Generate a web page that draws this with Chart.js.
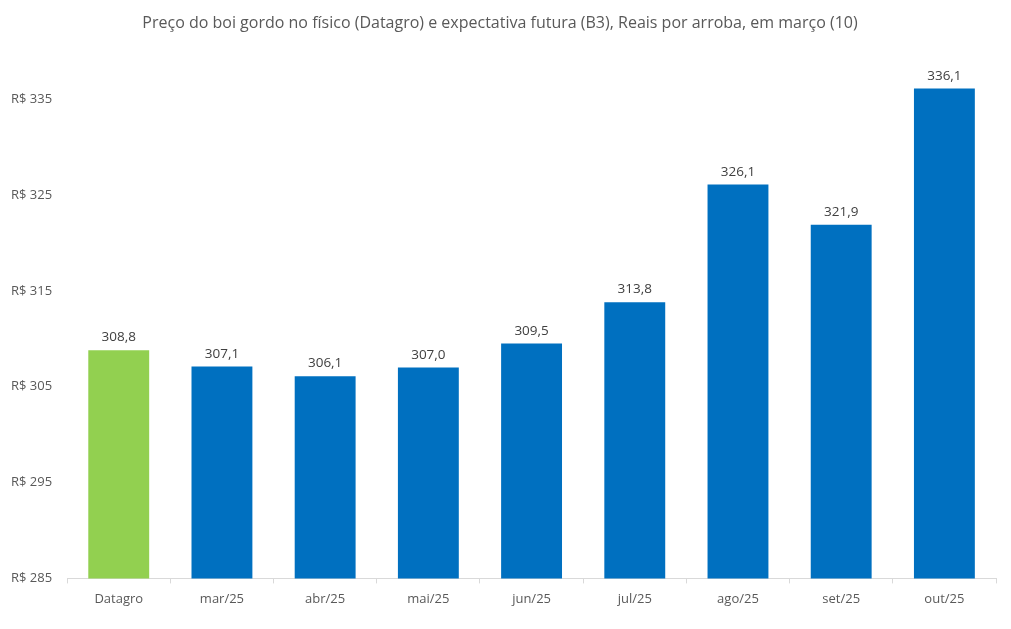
<!DOCTYPE html>
<html>
<head>
<meta charset="utf-8">
<script src="https://cdn.jsdelivr.net/npm/chart.js@4"></script>
<style>
  html, body { margin: 0; padding: 0; background: #fff; }
  #wrap { width: 1011px; height: 629px; }
</style>
</head>
<body>
<div id="wrap"><canvas id="chart" width="1011" height="629"></canvas></div>
<script>
// Chart data
const titleText = 'Preço do boi gordo no físico (Datagro) e expectativa futura (B3), Reais por arroba, em março (10)';
const categories = ['Datagro', 'mar/25', 'abr/25', 'mai/25', 'jun/25', 'jul/25', 'ago/25', 'set/25', 'out/25'];
const prices = [308.8, 307.1, 306.1, 307.0, 309.5, 313.8, 326.1, 321.9, 336.1];
const yTicks = [285, 295, 305, 315, 325, 335];

const textColor = '#595959';
const fontFamily = "'Open Sans', 'Noto Sans', sans-serif";

// Draws the value labels above each bar
const barLabels = {
    id: 'barLabels',
    afterDatasetsDraw(chart) {
        const ctx = chart.ctx;
        const meta = chart.getDatasetMeta(0);
        ctx.save();
        ctx.fillStyle = '#404040';
        ctx.font = '13.5px ' + fontFamily;
        ctx.textAlign = 'center';
        ctx.textBaseline = 'bottom';
        meta.data.forEach((bar, i) => {
            ctx.fillText(prices[i].toFixed(1).replace('.', ','), bar.x, bar.y - 6);
        });
        ctx.restore();
    }
};

const ctx = document.getElementById('chart').getContext('2d');
new Chart(ctx, {
    type: 'bar',
    data: {
        labels: categories,
        datasets: [{
            data: prices,
            backgroundColor: categories.map((c, i) => i === 0 ? '#92D050' : '#0070C0'),
            categoryPercentage: 1,
            barPercentage: 0.59
        }]
    },
    options: {
        responsive: false,
        animation: false,
        layout: { padding: { left: 4, right: 15, bottom: 14 } },
        plugins: {
            legend: { display: false },
            tooltip: { enabled: false },
            title: {
                display: true,
                text: titleText,
                color: textColor,
                font: { family: fontFamily, size: 16, weight: 'normal' },
                padding: { top: 14, bottom: 18 }
            }
        },
        scales: {
            x: {
                grid: {
                    offset: true,
                    drawOnChartArea: false,
                    drawTicks: true,
                    tickLength: 5,
                    color: '#d9d9d9'
                },
                border: { color: '#d9d9d9' },
                ticks: {
                    color: textColor,
                    font: { family: fontFamily, size: 13 },
                    padding: 8
                }
            },
            y: {
                min: 285,
                max: 340,
                afterBuildTicks(axis) {
                    axis.ticks = yTicks.map(v => ({ value: v }));
                },
                grid: { display: false },
                border: { display: false },
                ticks: {
                    color: textColor,
                    font: { family: fontFamily, size: 13 },
                    padding: 7,
                    callback: v => 'R$ ' + v
                }
            }
        }
    },
    plugins: [barLabels]
});
</script>
</body>
</html>
